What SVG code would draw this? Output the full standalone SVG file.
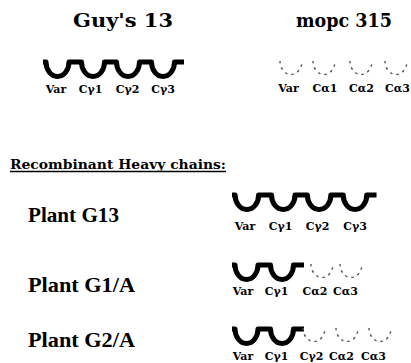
<svg xmlns="http://www.w3.org/2000/svg" width="411" height="363" viewBox="0 0 411 363">
  <style>
    .title { font-family: "DejaVu Serif", "Liberation Serif", serif; font-weight: bold; font-size: 19px; fill: #000; }
    .plant { font-family: "Liberation Serif", "DejaVu Serif", serif; font-weight: bold; font-size: 21px; fill: #000; }
    .head { font-family: "DejaVu Serif", "Liberation Serif", serif; font-weight: bold; font-size: 13px; fill: #000; }
    .lbl { font-family: "DejaVu Serif", "Liberation Serif", serif; font-weight: bold; font-size: 11px; fill: #000; text-anchor: middle; }
    .solid { fill: none; stroke: #000; stroke-width: 5; stroke-linejoin: round; }
    .faint { fill: none; stroke: #555; stroke-width: 1.4; stroke-dasharray: 2.5 4; }
  </style>
  <defs>
    <!-- four-domain heavy chain: top bar with hanging U loops -->
    <path id="chain4" d="M0,0 H3 A11.5 14.5 0 0 0 26,0 H38.5 A11.5 14.5 0 0 0 61.5,0 H73.5 A11.5 14.5 0 0 0 96.5,0 H108.5 A11.5 14.5 0 0 0 131.5,0 H141"/>
    <!-- two solid domains (Var + C1) with a short stub -->
    <path id="chain2" d="M0,0 H3 A11.5 14.5 0 0 0 26,0 H38.5 A11.5 14.5 0 0 0 61.5,0 H72"/>
    <!-- single faint loop -->
    <path id="loop" d="M-11,0 A11 13.5 0 0 0 11,0"/>
  </defs>

  <!-- column headings -->
  <g id="guys13-title">
    <text class="title" x="73" y="27" textLength="100" lengthAdjust="spacingAndGlyphs">Guy's 13</text>
  </g>
  <g id="mopc315-title">
    <text class="title" x="296" y="27" textLength="96" lengthAdjust="spacingAndGlyphs">mopc 315</text>
  </g>

  <!-- Guy's 13 heavy chain -->
  <g id="guys13-chain">
    <use href="#chain4" class="solid" transform="translate(43,62)"/>
    <text class="lbl" x="56" y="93">Var</text>
    <text class="lbl" x="90.5" y="93">Cγ1</text>
    <text class="lbl" x="127.5" y="93">Cγ2</text>
    <text class="lbl" x="163" y="93">Cγ3</text>
  </g>

  <!-- mopc 315 heavy chain -->
  <g id="mopc315-chain">
    <use href="#loop" class="faint" transform="translate(291,61)"/>
    <use href="#loop" class="faint" transform="translate(324,61)"/>
    <use href="#loop" class="faint" transform="translate(361,61)"/>
    <use href="#loop" class="faint" transform="translate(396,61)"/>
    <text class="lbl" x="288.5" y="92">Var</text>
    <text class="lbl" x="325" y="92">Cα1</text>
    <text class="lbl" x="361.5" y="92">Cα2</text>
    <text class="lbl" x="397.5" y="92">Cα3</text>
  </g>

  <!-- section heading -->
  <g id="recombinant-heading">
    <text class="head" x="10" y="169" textLength="216" lengthAdjust="spacingAndGlyphs">Recombinant Heavy chains:</text>
    <line x1="10" y1="171.5" x2="226" y2="171.5" stroke="#000" stroke-width="1.3"/>
  </g>

  <!-- Plant G13 -->
  <g id="plant-g13">
    <text class="plant" x="28" y="222" textLength="91" lengthAdjust="spacingAndGlyphs">Plant G13</text>
    <use href="#chain4" class="solid" transform="translate(232,195) scale(1.025,1)"/>
    <text class="lbl" x="245" y="229.5">Var</text>
    <text class="lbl" x="280.5" y="229.5">Cγ1</text>
    <text class="lbl" x="317.5" y="229.5">Cγ2</text>
    <text class="lbl" x="355" y="229.5">Cγ3</text>
  </g>

  <!-- Plant G1/A -->
  <g id="plant-g1a">
    <text class="plant" x="28" y="292" textLength="107" lengthAdjust="spacingAndGlyphs">Plant G1/A</text>
    <use href="#chain2" class="solid" transform="translate(232,265)"/>
    <use href="#loop" class="faint" transform="translate(322,264)"/>
    <use href="#loop" class="faint" transform="translate(351,264)"/>
    <text class="lbl" x="243" y="295">Var</text>
    <text class="lbl" x="276.5" y="295">Cγ1</text>
    <text class="lbl" x="315" y="295">Cα2</text>
    <text class="lbl" x="345.5" y="295">Cα3</text>
  </g>

  <!-- Plant G2/A -->
  <g id="plant-g2a">
    <text class="plant" x="28" y="347" textLength="107" lengthAdjust="spacingAndGlyphs">Plant G2/A</text>
    <use href="#chain2" class="solid" transform="translate(232,329)"/>
    <use href="#loop" class="faint" transform="translate(314,328)"/>
    <use href="#loop" class="faint" transform="translate(347,328)"/>
    <use href="#loop" class="faint" transform="translate(380,328)"/>
    <text class="lbl" x="243" y="359.5">Var</text>
    <text class="lbl" x="276.5" y="359.5">Cγ1</text>
    <text class="lbl" x="311.5" y="359.5">Cγ2</text>
    <text class="lbl" x="341.5" y="359.5">Cα2</text>
    <text class="lbl" x="373.5" y="359.5">Cα3</text>
  </g>
</svg>
